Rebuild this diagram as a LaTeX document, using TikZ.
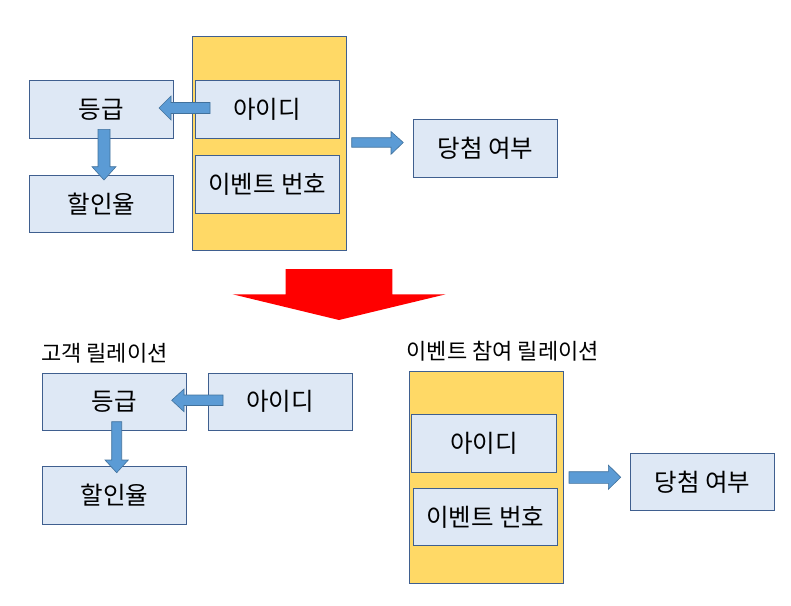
\documentclass[tikz,border=0pt]{standalone}
\usepackage{fontspec}
\setmainfont{Noto Sans CJK KR}
\definecolor{boxfill}{HTML}{DEE8F5}
\definecolor{boxline}{HTML}{3F5F8F}
\definecolor{yel}{HTML}{FFD966}
\definecolor{arrfill}{HTML}{5B9BD5}
\definecolor{arrline}{HTML}{41719C}
\begin{document}
\begin{tikzpicture}[x=1pt,y=-1pt,
  attr/.style={draw=boxline,line width=0.8pt,fill=boxfill,font=\fontsize{24.5}{28}\selectfont,inner sep=0pt},
  rel/.style={draw=boxline,line width=0.8pt,fill=yel},
  blk/.style={fill=arrfill,draw=arrline,line width=0.6pt,line join=miter},
  lbl/.style={font=\fontsize{22}{26}\selectfont,inner sep=0pt,anchor=west}]
\useasboundingbox (0,0) rectangle (791,605);
% ---------- top ----------
\filldraw[rel] (192.3,36.7) rectangle (346.7,250);
\node[attr,minimum width=144pt,minimum height=57.5pt] (id1) at (267.2,109.5) {아이디};
\node[attr,minimum width=144pt,minimum height=57.5pt] (ev1) at (267.2,184.5) {이벤트 번호};
\node[attr,minimum width=144.4pt,minimum height=57.5pt] (gr1) at (101.5,109.5) {등급};
\node[attr,minimum width=144.4pt,minimum height=57.5pt] (dc1) at (101.5,203.8) {할인율};
\node[attr,minimum width=144.4pt,minimum height=58pt] (win1) at (485.5,148.3) {당첨 여부};
% arrows top
\draw[blk] (210,102.5) -- (171,102.5) -- (171,96) -- (159,108) -- (171,120) -- (171,113.5) -- (210,113.5) -- cycle;
\draw[blk] (98,129.3) -- (110,129.3) -- (110,166.7) -- (116,166.7) -- (104,180) -- (92,166.7) -- (98,166.7) -- cycle;
\draw[blk] (351.7,137.7) -- (391,137.7) -- (391,131.5) -- (403.3,142.5) -- (391,154.3) -- (391,147.2) -- (351.7,147.2) -- cycle;
% ---------- big red arrow ----------
\fill[red] (285.7,269) -- (392.3,269) -- (392.3,294.3) -- (445.7,294.3) -- (339,320) -- (232.7,294.3) -- (285.7,294.3) -- cycle;
% ---------- bottom left ----------
\node[lbl] (lab1) at (41,353) {고객 릴레이션};
\node[attr,minimum width=144.4pt,minimum height=56.7pt] (gr2) at (114.5,401.7) {등급};
\node[attr,minimum width=143.7pt,minimum height=56.7pt] (id2) at (280.2,401.7) {아이디};
\node[attr,minimum width=144.4pt,minimum height=57.6pt] (dc2) at (114.5,495.5) {할인율};
\draw[blk] (223,395) -- (184,395) -- (184,389) -- (171.7,400.3) -- (184,411.7) -- (184,405.5) -- (223,405.5) -- cycle;
\draw[blk] (111.7,421.7) -- (121.7,421.7) -- (121.7,460) -- (128.3,460) -- (116.7,472.7) -- (105,460) -- (111.7,460) -- cycle;
% ---------- bottom right ----------
\node[lbl] (lab2) at (406.5,351.5) {이벤트 참여 릴레이션};
\filldraw[rel] (409.3,371) rectangle (563.7,583.3);
\node[attr,minimum width=145pt,minimum height=57.7pt] (id3) at (484.2,443.2) {아이디};
\node[attr,minimum width=144.3pt,minimum height=57.4pt] (ev3) at (485.2,517) {이벤트 번호};
\node[attr,minimum width=143.6pt,minimum height=57pt] (win2) at (702.5,481.8) {당첨 여부};
\draw[blk] (569,471.7) -- (608.3,471.7) -- (608.3,465) -- (620.7,477.3) -- (608.3,489.3) -- (608.3,483.3) -- (569,483.3) -- cycle;
\end{tikzpicture}
\end{document}
